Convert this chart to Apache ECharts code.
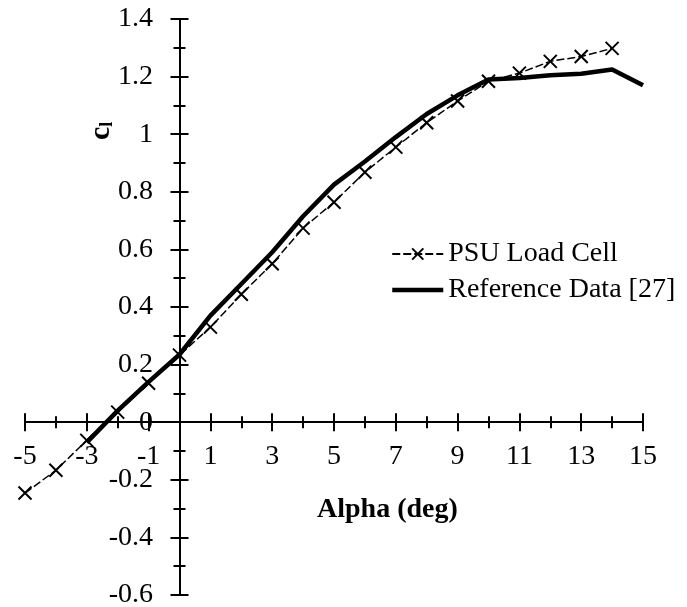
<!DOCTYPE html>
<html>
<head>
<meta charset="utf-8">
<script src="https://cdn.jsdelivr.net/npm/echarts@6/dist/echarts.min.js"></script>
<style>
html,body{margin:0;padding:0;background:#fff;}
#chart{width:687px;height:607px;}
</style>
</head>
<body>
<div id="chart"></div>
<script>
var alphaPSU = [-5,-4,-3,-2,-1,0,1,2,3,4,5,6,7,8,9,10,11,12,13,14];
var clPSU = [-0.246,-0.167,-0.063,0.035,0.135,0.233,0.33,0.444,0.55,0.674,0.764,0.868,0.955,1.04,1.115,1.184,1.212,1.253,1.27,1.298];
var alphaRef = [-3,-2,-1,0,1,2,3,4,5,6,7,8,9,10,11,12,13,14,15];
var clRef = [-0.07,0.04,0.14,0.235,0.37,0.48,0.59,0.715,0.825,0.905,0.99,1.07,1.135,1.19,1.195,1.205,1.21,1.225,1.17];
var xTicks = {min:-5, max:15, step:2};
var yTicks = {min:-0.6, max:1.4, step:0.2};
var seriesNames = ['PSU Load Cell','Reference Data [27]'];
var xTitle = 'Alpha (deg)';

function pairs(xs, ys){ return xs.map(function(x,i){ return [x, ys[i]]; }); }

var FONT = 'Liberation Serif, Times New Roman, serif';
var chart = echarts.init(document.getElementById('chart'));
var xSym = 'path://M0,0L10,10M10,0L0,10';

function xAxisDef(inside, gi){
  return {
    type:'value', gridIndex:gi, min:xTicks.min, max:xTicks.max, interval:xTicks.step,
    axisLine:{show:!inside, onZero:true, lineStyle:{color:'#000', width:2}},
    axisTick:{show:true, inside:inside, length:9, lineStyle:{color:'#000', width:2}},
    minorTick:{show:true, splitNumber:2, length:6, lineStyle:{color:'#000', width:2}},
    axisLabel:{show:!inside, margin:-152, color:'#000', fontFamily:FONT, fontSize:28},
    splitLine:{show:false}, minorSplitLine:{show:false}
  };
}
function yAxisDef(inside, gi){
  return {
    type:'value', gridIndex:gi, min:yTicks.min, max:yTicks.max, interval:yTicks.step,
    axisLine:{show:!inside, onZero:true, lineStyle:{color:'#000', width:2}},
    axisTick:{show:true, inside:inside, length:9, lineStyle:{color:'#000', width:2}},
    minorTick:{show:true, splitNumber:2, length:6, lineStyle:{color:'#000', width:2}},
    axisLabel:{show:!inside, margin:-128, color:'#000', fontFamily:FONT, fontSize:28},
    splitLine:{show:false}, minorSplitLine:{show:false}
  };
}
var gridRect = {left:25, top:19, width:618, height:576, containLabel:false, outerBoundsMode:'none'};

chart.setOption({
  animation:false,
  backgroundColor:'#fff',
  grid:[Object.assign({}, gridRect), Object.assign({}, gridRect)],
  xAxis:[xAxisDef(false,0), xAxisDef(true,1)],
  yAxis:[yAxisDef(false,0), yAxisDef(true,1)],
  legend:{
    orient:'vertical', left:390, top:239, itemGap:6, padding:0,
    itemWidth:51, itemHeight:14,
    textStyle:{color:'#000', fontFamily:FONT, fontSize:28, lineHeight:30},
    data:[{name:seriesNames[0]}, {name:seriesNames[1], itemStyle:{opacity:0}, lineStyle:{width:4.5, color:'#000'}}]
  },
  graphic:[
    {type:'text', left:317, top:496, style:{text:xTitle, fill:'#000', font:'bold 28px ' + FONT}},
    {type:'text', x:86, y:140, rotation:Math.PI/2,
     style:{text:'{c|c}{s|l}', fill:'#000', rich:{
       c:{fontFamily:FONT, fontWeight:'bold', fontSize:30, fill:'#000'},
       s:{fontFamily:FONT, fontWeight:'bold', fontSize:18, fill:'#000', padding:[12,0,0,0]}
     }}}
  ],
  series:[
    {name:seriesNames[0], type:'line', xAxisIndex:0, yAxisIndex:0,
     data:pairs(alphaPSU, clPSU),
     symbol:xSym, symbolSize:13, showSymbol:true,
     lineStyle:{color:'#000', width:1.5, type:[8,3]},
     itemStyle:{color:'rgba(0,0,0,0)', borderColor:'#000', borderWidth:2},
     z:3},
    {name:seriesNames[1], type:'line', xAxisIndex:0, yAxisIndex:0,
     data:pairs(alphaRef, clRef),
     symbol:'none', showSymbol:false,
     lineStyle:{color:'#000', width:4.5},
     itemStyle:{color:'#000'},
     z:2}
  ]
});
</script>
</body>
</html>
